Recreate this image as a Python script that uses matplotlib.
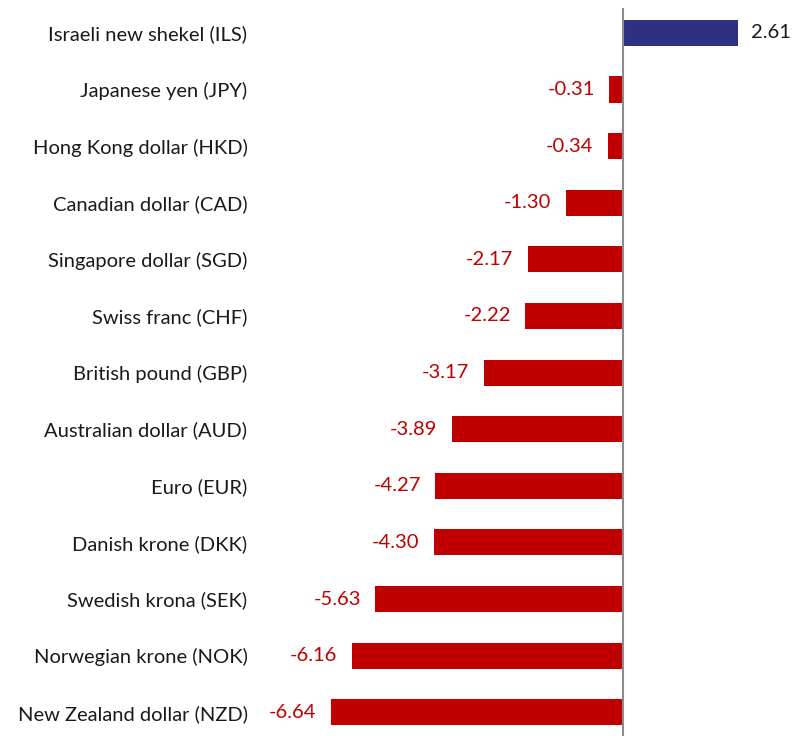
import matplotlib.pyplot as plt

currencies = ["Israeli new shekel (ILS)", "Japanese yen (JPY)", "Hong Kong dollar (HKD)",
              "Canadian dollar (CAD)", "Singapore dollar (SGD)", "Swiss franc (CHF)",
              "British pound (GBP)", "Australian dollar (AUD)", "Euro (EUR)",
              "Danish krone (DKK)", "Swedish krona (SEK)", "Norwegian krone (NOK)",
              "New Zealand dollar (NZD)"]
changes = [2.61, -0.31, -0.34, -1.30, -2.17, -2.22, -3.17, -3.89, -4.27, -4.30, -5.63, -6.16, -6.64]

plt.rcParams['font.family'] = ['Lato', 'DejaVu Sans']

fig = plt.figure(figsize=(7.93, 7.36), dpi=100)
ax = fig.add_axes([260 / 793, 0, 533 / 793, 728 / 736])

pos = list(range(len(currencies)))
colors = ['#2E3182' if v > 0 else '#C00000' for v in changes]
ax.barh(pos, changes, height=0.46, color=colors)

for y, v in zip(pos, changes):
    if v > 0:
        ax.text(v + 0.3, y, f"{v:.2f}", va='center', ha='left', fontsize=14.5, color='#1a1a1a')
    else:
        ax.text(v - 0.33, y, f"{v:.2f}", va='center', ha='right', fontsize=14.5, color='#C00000')

ax.axvline(0, color='#8c8c8c', linewidth=1.5)
ax.set_xlim(-8.25, 3.86)
ax.set_ylim(12.42, -0.44)
ax.set_yticks(pos)
ax.set_yticklabels(currencies, fontsize=14.5, color='#1a1a1a')
ax.tick_params(axis='y', length=0, pad=9)
ax.set_xticks([])
for s in ax.spines.values():
    s.set_visible(False)

fig.savefig("out.png", dpi=100)
